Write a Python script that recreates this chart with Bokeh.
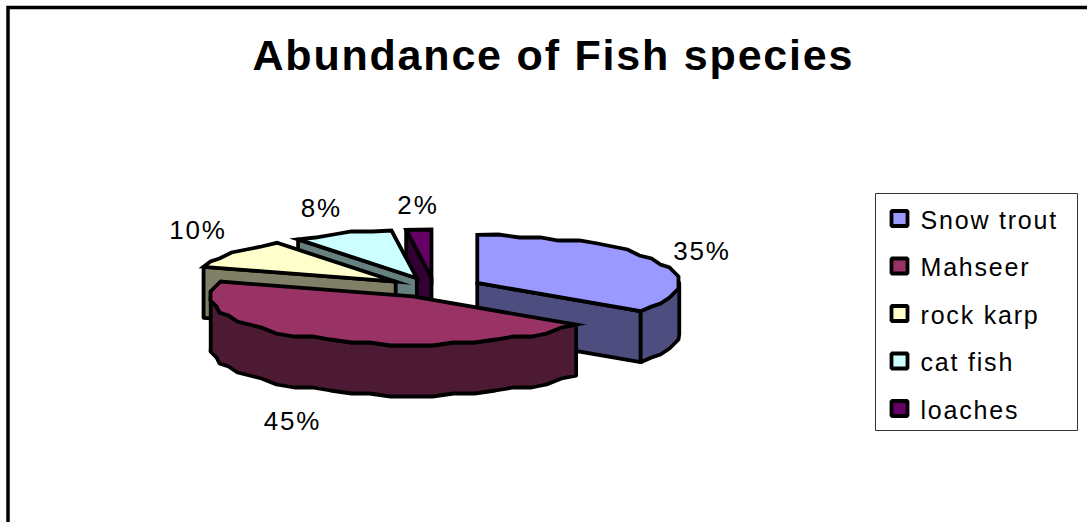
import numpy as np
from bokeh.core.properties import value
from bokeh.embed import file_html
from bokeh.models import Range1d
from bokeh.plotting import figure
from bokeh.resources import INLINE

# Chart content
title = "Abundance of Fish species"
species = ["Snow trout", "Mahseer", "rock karp", "cat fish", "loaches"]
shares = [35, 45, 10, 8, 2]

top_colors = ["#9999FF", "#993366", "#FFFFCC", "#CCFFFF", "#660066"]
side_colors = ["#4D4D80", "#4D1A33", "#808066", "#668080", "#330033"]
draw_order = [4, 3, 2, 0, 1]

# Small corrections to the computed percentage label positions
label_nudge_x = [-2.5, -8.5, 3.5, -4.5, 0.5]
label_nudge_y = [2, -1, -8, 0, 2]

WIDTH, HEIGHT = 1087, 522
CX, CY = 434.0, 287.0      # pie centre before the slices are pulled apart
RX, RY = 202.0, 48.0       # radii of the tilted disc
PULL_X, PULL_Y = 48.0, 10.0  # how far each slice is pulled along its mid angle
DEPTH = 51.0               # thickness of the disc
SNAP = 3.0                 # rim vertices sit on a coarse grid, giving the faceted edge
LABEL_RX, LABEL_RY = 300.0, 85.0
FONT = "Liberation Sans"
STROKE = 3.8

p = figure(
    width=WIDTH, height=HEIGHT, output_backend="svg", toolbar_location=None,
    x_range=Range1d(0, WIDTH), y_range=Range1d(HEIGHT, 0),
    x_axis_location=None, y_axis_location=None, min_border=0,
    outline_line_color=None, background_fill_color="white",
)
p.grid.visible = False
# Wider tracking for every label; the property is inherited by the svg text
p.styles = {"letter-spacing": "1.8px"}


def rim(ax, ay, start, end):
    """Faceted outer edge of a slice between two angles (degrees clockwise from 12 o'clock)."""
    count = max(int(round((end - start) / 6.0)), 1)
    t = np.radians(np.linspace(start, end, count + 1))
    x = ax + RX * np.sin(t)
    y = ay - RY * np.cos(t)
    x[1:-1] = np.round(x[1:-1] / SNAP) * SNAP
    y[1:-1] = np.round(y[1:-1] / SNAP) * SNAP
    return x, y


def face(xs, ys, color, join="round"):
    p.patch(list(xs), list(ys), fill_color=color, line_color="black",
            line_width=STROKE, line_join=join)


def is_front(angle):
    return np.cos(np.radians(angle)) < -1e-6


total = sum(shares)
edges = np.concatenate([[0.0], np.cumsum(shares)]) * 360.0 / total

for i in draw_order:
    a0, a1 = edges[i], edges[i + 1]
    mid = np.radians((a0 + a1) / 2)
    ax = CX + PULL_X * np.sin(mid)
    ay = CY - PULL_Y * np.cos(mid)

    # Radial walls that turn towards the viewer
    for angle, normal in ((a0, a0 - 90), (a1, a1 + 90)):
        if is_front(normal):
            ex = ax + RX * np.sin(np.radians(angle))
            ey = ay - RY * np.cos(np.radians(angle))
            face([ax, ex, ex, ax], [ay, ey, ey + DEPTH, ay + DEPTH], side_colors[i])

    # Outer wall on the near half of the disc
    w0, w1 = max(a0, 90.0), min(a1, 270.0)
    if w1 > w0:
        rx_, ry_ = rim(ax, ay, w0, w1)
        face(np.r_[rx_, rx_[::-1]], np.r_[ry_, ry_[::-1] + DEPTH], side_colors[i])

    # Top surface
    rx_, ry_ = rim(ax, ay, a0, a1)
    face(np.r_[ax, rx_], np.r_[ay, ry_], top_colors[i], join="miter")

# Percentage labels around the pie
mids = np.radians((edges[:-1] + edges[1:]) / 2)
label_x = CX + LABEL_RX * np.sin(mids) + np.array(label_nudge_x)
label_y = (CY - LABEL_RY * np.cos(mids) + np.where(np.cos(mids) < 0, DEPTH * 1.15, 0.0)
           + np.array(label_nudge_y))
p.text(label_x, label_y, text=[f"{s}%" for s in shares], text_font=value(FONT),
       text_font_size="26px", text_color="black", text_align="center", text_baseline="middle")

# Title
p.text([252], [54], text=[title], text_font=value(FONT), text_font_style="bold",
       text_font_size="43px", text_color="black", text_align="left", text_baseline="middle")

# Chart border: left and top edges inside the window
p.line([7.5, 7.5, WIDTH], [HEIGHT, 7, 7], line_color="black", line_width=3.5, line_join="miter")

# Legend
p.quad(left=[875], right=[1077], top=[193], bottom=[430], fill_color="white",
       line_color="#333333", line_width=1)
rows = 218 + 47.5 * np.arange(len(species))
p.quad(left=891, right=907, top=rows - 7.5, bottom=rows + 7.5,
       fill_color=top_colors, line_color="black", line_width=STROKE)
p.text(np.full(len(species), 920.0), rows + 1, text=species, text_font=value(FONT),
       text_font_size="25px", text_color="black", text_align="left", text_baseline="middle")

open("out.html", "w").write(file_html(p, INLINE))
